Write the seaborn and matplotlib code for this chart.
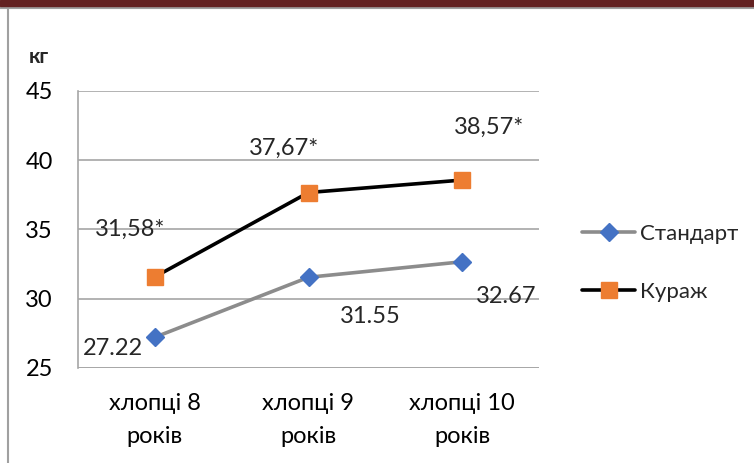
import matplotlib
matplotlib.use("Agg")
import matplotlib.pyplot as plt
from matplotlib.lines import Line2D
import pandas as pd
import seaborn as sns

categories = ["хлопці 8\nроків", "хлопці 9\nроків", "хлопці 10\nроків"]
standart = [27.22, 31.55, 32.67]
kurazh = [31.58, 37.67, 38.57]
standart_labels = ["27.22", "31.55", "32.67"]
kurazh_labels = ["31,58*", "37,67*", "38,57*"]
yticks = [25, 30, 35, 40, 45]

sns.set_theme(style="white")
plt.rcParams["font.family"] = ["Lato", "DejaVu Sans"]

FS = 17

df = pd.DataFrame({
    "cat": categories * 2,
    "value": standart + kurazh,
    "series": ["Стандарт"] * 3 + ["Кураж"] * 3,
})

fig = plt.figure(figsize=(7.54, 4.63), dpi=100)
ax = fig.add_axes([78 / 754, 1 - 368 / 463, 461 / 754, 277 / 463])

sns.lineplot(data=df, x="cat", y="value", hue="series",
             palette={"Стандарт": "#8c8c8c", "Кураж": "#000000"},
             linewidth=2.6, sort=False, ax=ax, legend=False)

# coloured markers drawn over the lines
ax.plot(range(3), standart, linestyle="none", marker="D", markersize=9,
        color="#4472C4", markeredgecolor="#4472C4", zorder=4)
ax.plot(range(3), kurazh, linestyle="none", marker="s", markersize=11,
        color="#ED7D31", markeredgecolor="#ED7D31", zorder=4)

ax.set_xlim(-0.5, 2.5)
ax.set_ylim(25, 45)
ax.set_yticks(yticks)
ax.set_xticks(range(3))
ax.set_xticklabels(categories, linespacing=1.7)
ax.tick_params(axis="both", labelsize=FS, length=0, colors="#000000")
ax.tick_params(axis="y", pad=18)
ax.tick_params(axis="x", pad=18)
ax.set_xlabel("")
ax.set_ylabel("")
ax.grid(axis="y", color="#a6a6a6", linewidth=1.2)
for side in ["top", "right", "bottom"]:
    ax.spines[side].set_visible(False)
ax.spines["left"].set_color("#a6a6a6")
ax.spines["left"].set_linewidth(1.2)
ax.axhline(25, color="#a6a6a6", linewidth=1.2, zorder=1)

# value labels
s_off = [(-42, -11), (62, -39), (44, -35)]
k_off = [(-25, 48), (-24, 44), (27, 53)]
for i in range(3):
    ax.annotate(standart_labels[i], (i, standart[i]), xytext=s_off[i],
                textcoords="offset pixels", ha="center", va="center", fontsize=FS)
    ax.annotate(kurazh_labels[i], (i, kurazh[i]), xytext=k_off[i],
                textcoords="offset pixels", ha="center", va="center", fontsize=FS)

fig.text(29 / 754, 1 - 57 / 463, "кг", fontsize=15, fontweight="bold", va="center")

# legend
handles = [
    Line2D([], [], color="#8c8c8c", linewidth=2.6, marker="D", markersize=9,
           markerfacecolor="#4472C4", markeredgecolor="#4472C4"),
    Line2D([], [], color="#000000", linewidth=2.6, marker="s", markersize=11,
           markerfacecolor="#ED7D31", markeredgecolor="#ED7D31"),
]
fig.legend(handles, ["Стандарт", "Кураж"], loc="center left",
           bbox_to_anchor=(562 / 754, 1 - 263 / 463), frameon=False,
           fontsize=16, handlelength=2.4, handletextpad=0.2, labelspacing=1.7)

# frame of the slide
fig.add_artist(plt.Rectangle((0, 1 - 6 / 463), 1, 6 / 463, transform=fig.transFigure,
                             color="#632121", zorder=10))
fig.add_artist(Line2D([0, 1], [1 - 7.5 / 463] * 2, transform=fig.transFigure,
                      color="#a0a0a0", linewidth=1.5))
fig.add_artist(Line2D([7.5 / 754] * 2, [0, 1 - 7 / 463], transform=fig.transFigure,
                      color="#a0a0a0", linewidth=1.5))

fig.savefig("out.png", dpi=100)
